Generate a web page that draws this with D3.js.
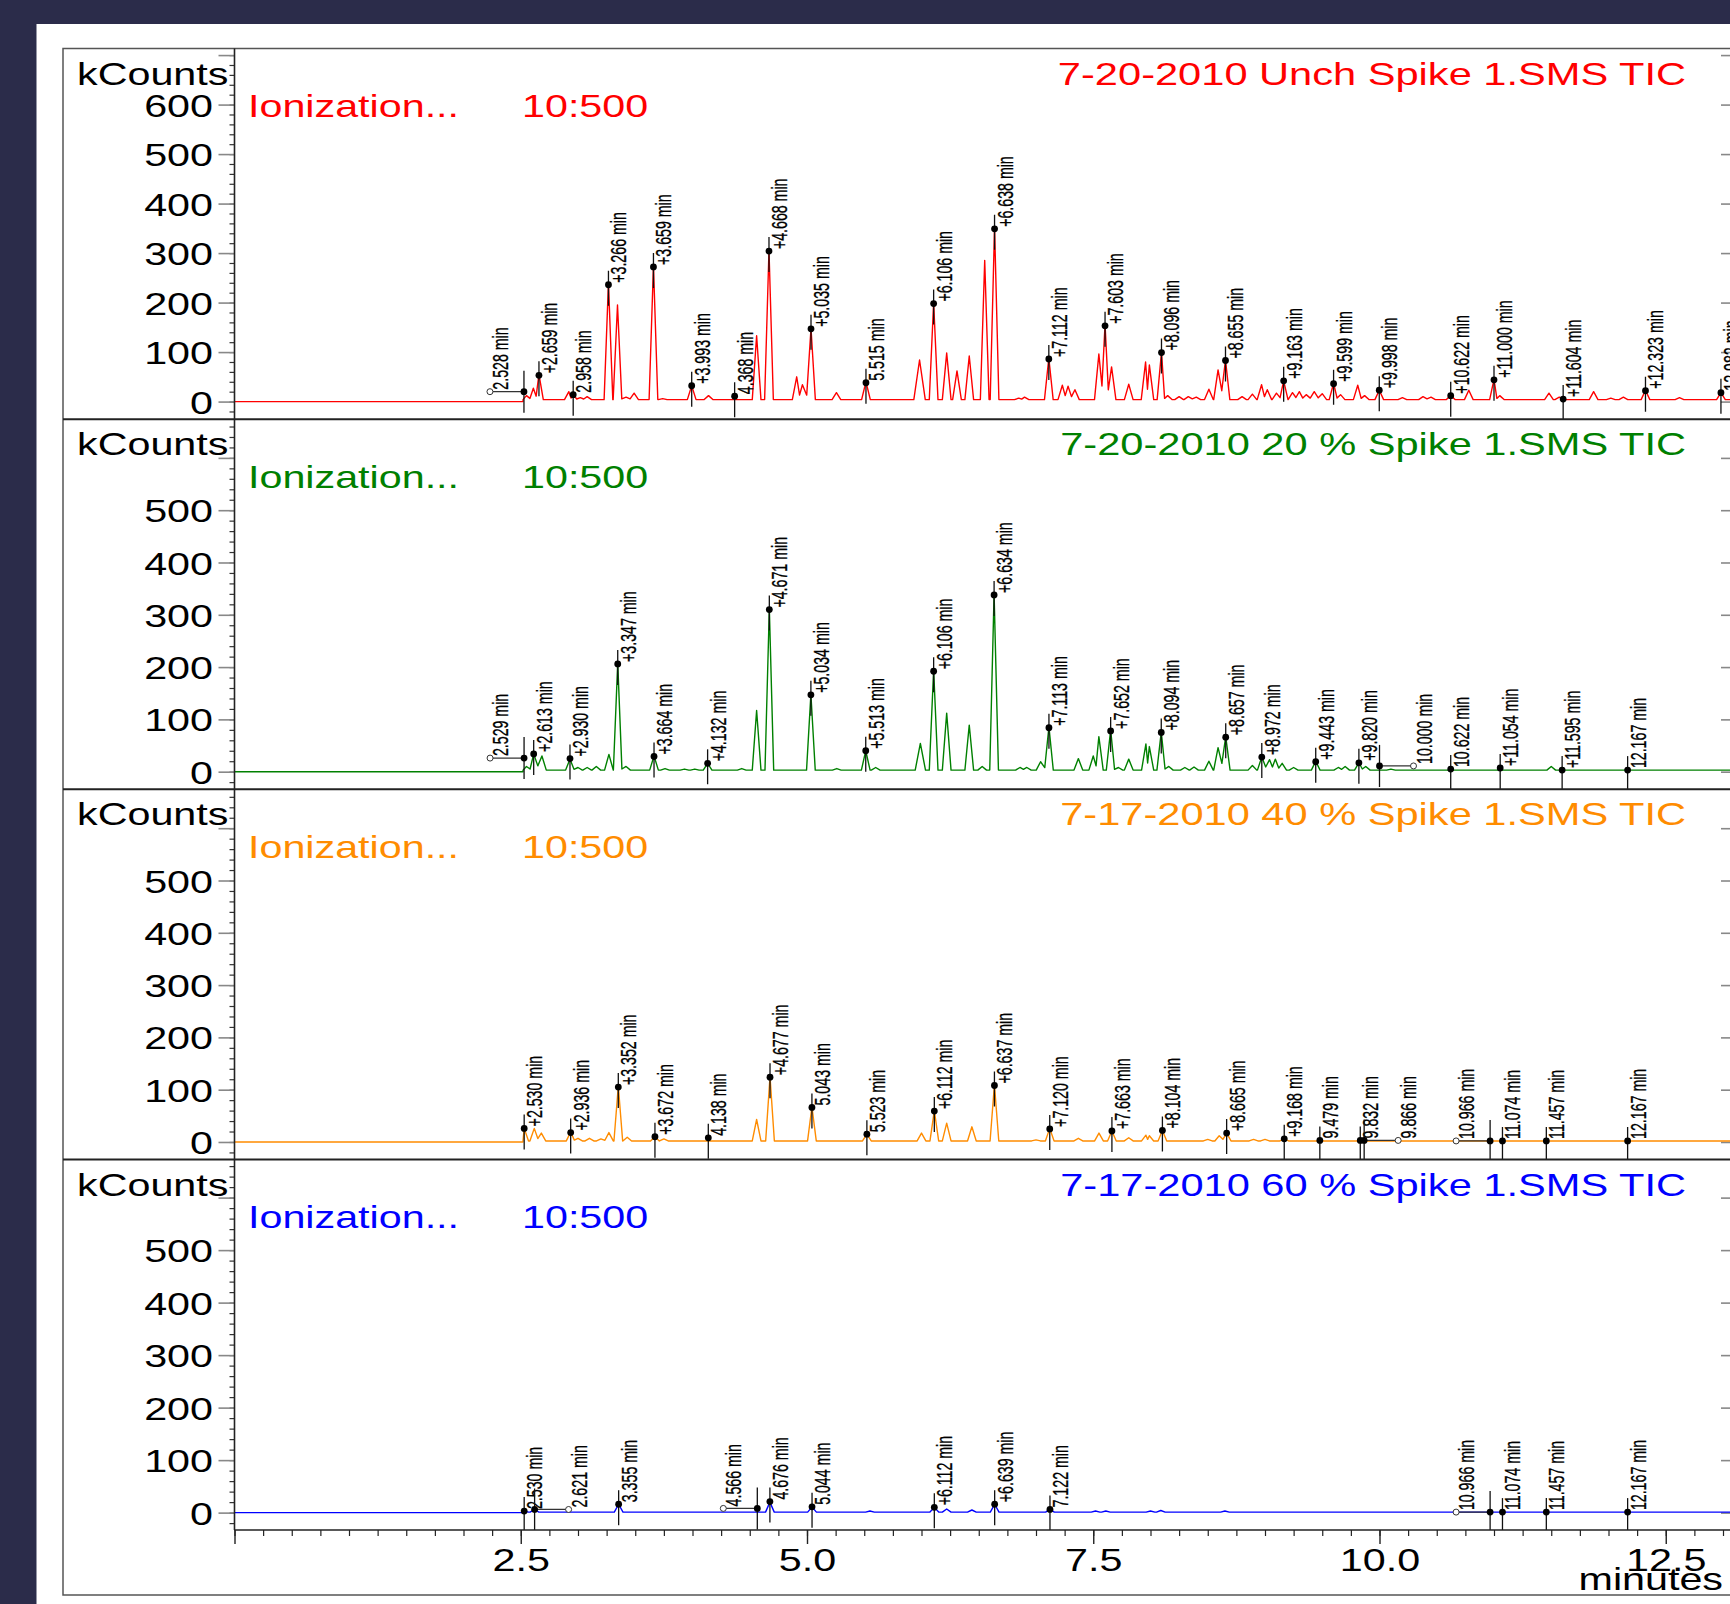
<!DOCTYPE html>
<html><head><meta charset="utf-8">
<script src="https://cdn.jsdelivr.net/npm/d3@7"></script>
<style>html,body{margin:0;padding:0;background:#2b2c4a;} svg{display:block;}</style>
</head><body><svg id="c" width="1730" height="1604"></svg>
<script>
// ---------------- DATA ----------------
const panelTitles = ["7-20-2010 Unch Spike 1.SMS TIC","7-20-2010 20 % Spike 1.SMS TIC","7-17-2010 40 % Spike 1.SMS TIC","7-17-2010 60 % Spike 1.SMS TIC"];
const panelColors = ["#ff0000","#008000","#ff8c00","#0000ff"];
const ionLabel = "Ionization...";
const ionValue = "10:500";
const yAxisTitle = "kCounts";
const xAxisTitle = "minutes";
const yDomainMax = [713.3, 673.8, 674.4, 672.4];
const yDomainMin = [-35.8, -33.7, -33.7, -33.1];
const yLabelMax = [600, 500, 500, 500];
const xTickValues = [2.5, 5.0, 7.5, 10.0, 12.5];
const xTickLabels = ["2.5", "5.0", "7.5", "10.0", "12.5"];
const dataStart = [2.52, 2.52, 2.52, 2.52];
const baseLevels = [4, 3, 2, 1];

// peaks: [retention time (min), height (kCounts), optional half width]
const redPeaks = [[2.55,12],[2.61,27],[2.659,55],[2.92,20],[2.958,14],[3.02,8],[3.08,10],[3.266,240],[3.345,195],[3.42,9],[3.49,17],[3.659,275],[3.74,6],[3.993,32],[4.14,12],[4.56,133],[4.668,306],[4.91,50],[4.96,34],[5.035,148],[5.257,18],[5.515,40],[5.983,84,0.05],[6.106,200],[6.22,98],[6.31,62],[6.417,92],[6.552,285],[6.638,352],[6.85,7],[6.90,9],[7.112,88],[7.23,33],[7.28,31],[7.34,24],[7.549,96],[7.603,156],[7.66,70],[7.81,35],[7.957,80],[7.99,74],[8.096,100],[8.15,12],[8.25,10],[8.33,10],[8.40,9],[8.51,25],[8.59,64],[8.655,84],[8.80,10],[8.89,15],[8.97,34],[9.02,24],[9.10,17],[9.163,42],[9.24,18],[9.30,20],[9.36,14],[9.43,20],[9.50,16],[9.599,37],[9.66,14],[9.81,33],[9.87,12],[9.998,23],[10.20,8],[10.38,10],[10.45,9],[10.622,12],[10.78,23],[11.000,45],[11.05,12],[11.48,17],[11.57,9],[11.87,20],[12.02,7],[12.13,9],[12.323,23],[12.62,8],[12.982,18]];
const greenPeaks = [[2.55,10],[2.613,34],[2.685,30],[2.93,24],[3.0,8],[3.08,8],[3.16,10],[3.27,33],[3.347,208],[3.42,10],[3.664,30],[3.76,6],[3.93,5],[4.02,5],[4.132,16],[4.43,6],[4.56,117],[4.671,312],[5.034,148],[5.26,6],[5.513,40],[5.60,8],[5.99,54,0.045],[6.106,195],[6.22,112],[6.417,89],[6.53,10],[6.634,340],[6.86,8],[6.92,8],[7.04,19],[7.113,86],[7.37,25],[7.50,30],[7.549,67],[7.652,80],[7.72,8],[7.81,24],[7.96,53],[7.99,48],[8.094,76],[8.16,10],[8.30,8],[8.38,9],[8.51,20],[8.59,46],[8.657,67],[8.89,12],[8.972,28],[9.04,23],[9.09,24],[9.15,16],[9.25,8],[9.443,20],[9.64,8],[9.70,10],[9.82,17],[9.88,10],[10.1,5],[11.5,10]];
const orangePeaks = [[2.53,26],[2.618,26],[2.68,17],[2.936,19],[3.0,7],[3.1,7],[3.2,6],[3.27,18],[3.352,107],[3.43,9],[3.672,10],[3.75,6],[4.56,43],[4.677,125],[5.043,67],[5.523,15],[6.0,17],[6.112,60],[6.22,36],[6.44,29],[6.637,110],[7.0,4],[7.12,26],[7.37,7],[7.55,17],[7.663,21],[7.81,8],[7.96,13],[7.99,12],[8.104,22],[8.50,5],[8.60,12],[8.665,17],[8.9,5],[9.0,5],[9.168,6]];
const bluePeaks = [[2.53,3],[2.62,6],[3.355,16],[4.676,20],[5.044,11],[5.55,3],[6.112,10],[6.22,7],[6.44,5],[6.639,16],[7.122,6],[7.52,3],[7.61,3],[8.0,3],[8.09,4],[8.65,3]];

// marks: [label time, dot value (kCounts), "+" prefix, lead (-1/+1 = offset label with leader)]
const redMarks = [["2.528",20,0,-1],["2.659",53,1],["2.958",14,0],["3.266",236,1],["3.659",272,1],["3.993",32,1],["4.368",11,0],["4.668",304,1],["5.035",147,1],["5.515",38,0],["6.106",198,1],["6.638",349,1],["7.112",86,1],["7.603",153,1],["8.096",99,1],["8.655",83,1],["9.163",42,1],["9.599",36,1],["9.998",23,1],["10.622",12,1],["11.000",44,1],["11.604",5,1],["12.323",22,1],["12.982",18,0]];
const greenMarks = [["2.529",26,0,-1],["2.613",34,1],["2.930",25,1],["3.347",206,1],["3.664",29,1],["4.132",16,1],["4.671",310,1],["5.034",147,1],["5.513",40,1],["6.106",192,1],["6.634",338,1],["7.113",84,1],["7.652",78,1],["8.094",75,1],["8.657",66,1],["8.972",28,1],["9.443",19,1],["9.820",17,1],["10.000",11,0,1],["10.622",5,0],["11.054",7,1],["11.595",3,1],["12.167",3,0]];
const orangeMarks = [["2.530",26,1],["2.936",18,1],["3.352",105,1],["3.672",10,1],["4.138",8,0],["4.677",124,1],["5.043",66,0],["5.523",15,0],["6.112",59,1],["6.637",108,1],["7.120",25,1],["7.663",21,1],["8.104",22,1],["8.665",17,1],["9.168",6,1],["9.479",3,0],["9.832",3,0],["9.866",3,0,1],["10.966",2,0,-1],["11.074",2,0],["11.457",2,0],["12.167",2,0]];
const blueMarks = [["2.530",3,0],["2.621",6,0,1],["3.355",16,0],["4.566",8,0,-1],["4.676",21,0],["5.044",11,0],["6.112",10,1],["6.639",16,1],["7.122",6,0],["10.966",1,0,-1],["11.074",1,0],["11.457",1,0],["12.167",1,0]];

const allPeaks = [redPeaks, greenPeaks, orangePeaks, bluePeaks];
const allMarks = [redMarks, greenMarks, orangeMarks, blueMarks];

// ---------------- LAYOUT ----------------
const W = 1730, H = 1604;
const plotLeft = 234.5, plotRight = 1740;
const panelTops = [48.5, 419.3, 789.3, 1159.6];
const plotBottom = 1530;
const FONT = "'Liberation Sans', Arial, sans-serif";
const SX = 1.29;
const HW = 0.038;

const svg = d3.select("#c");
svg.append("rect").attr("width", W).attr("height", H).attr("fill", "#2b2c4a");
svg.append("rect").attr("x", 36.5).attr("y", 24).attr("width", W).attr("height", H).attr("fill", "#fff");
svg.append("rect").attr("x", 63).attr("y", 48.5).attr("width", 1800).attr("height", 1595 - 48.5)
  .attr("fill", "none").attr("stroke", "#555").attr("stroke-width", 1.5);

const x = d3.scaleLinear().domain([0, (plotRight - plotLeft) / 114.5]).range([plotLeft, plotRight]);

function htext(g, px, py, str, color, anchor, sx) {
  g.append("text").attr("transform", `translate(${px},${py}) scale(${sx || SX},1)`)
    .attr("text-anchor", anchor).attr("font-family", FONT).attr("font-size", 32)
    .attr("fill", color).text(str);
}

function tracePoints(peaks, base, start, end) {
  const ps = peaks.slice().sort((a, b) => a[0] - b[0]);
  const pts = [[0, 0], [start, 0], [start, base]];
  const hw = p => p[2] || HW;
  for (let i = 0; i < ps.length; i++) {
    const p = ps[i], prev = ps[i - 1], next = ps[i + 1];
    if (prev && prev[0] + hw(prev) > p[0] - hw(p)) {
      pts.push([(prev[0] + p[0]) / 2, base + 0.3 * (Math.min(prev[1], p[1]) - base)]);
    } else {
      pts.push([Math.max(p[0] - hw(p), start), base]);
    }
    pts.push([p[0], p[1]]);
    if (!(next && p[0] + hw(p) > next[0] - hw(next))) pts.push([p[0] + hw(p), base]);
  }
  pts.push([end, base]);
  return pts;
}

panelTops.forEach((T, i) => {
  const B = i < 3 ? panelTops[i + 1] : plotBottom;
  const y = d3.scaleLinear().domain([yDomainMin[i], yDomainMax[i]]).range([B, T]);
  const g = svg.append("g");
  const clipId = "clip" + i;
  svg.append("clipPath").attr("id", clipId).append("rect")
    .attr("x", plotLeft).attr("y", T).attr("width", 1600).attr("height", B - T);

  if (i > 0) g.append("line").attr("x1", 63).attr("x2", W).attr("y1", T).attr("y2", T)
    .attr("stroke", "#222").attr("stroke-width", 2);

  const minor = d3.range(Math.ceil(yDomainMin[i] / 20) * 20, yDomainMax[i], 20);
  const major = d3.range(0, yDomainMax[i], 100);
  const ay1 = g.append("g").attr("transform", `translate(${plotLeft},0)`)
    .call(d3.axisLeft(y).tickValues(minor).tickSize(5).tickFormat(""));
  ay1.select(".domain").remove();
  ay1.selectAll("line").attr("stroke", "#333").attr("stroke-width", 1.2);
  const ay2 = g.append("g").attr("transform", `translate(${plotLeft},0)`)
    .call(d3.axisLeft(y).tickValues(major).tickSize(16).tickFormat(d => d <= yLabelMax[i] ? d3.format("d")(d) : ""));
  ay2.select(".domain").remove();
  ay2.selectAll("line").attr("stroke", "#888").attr("stroke-width", 1.6);
  ay2.selectAll("text").attr("font-family", FONT).attr("font-size", 32).attr("fill", "#000")
    .attr("x", (213 - plotLeft) / SX).attr("dy", "0.36em").attr("transform", `scale(${SX},1)`);
  const ar = g.append("g").attr("transform", `translate(1735,0)`)
    .call(d3.axisLeft(y).tickValues(major).tickSize(14).tickFormat(""));
  ar.select(".domain").remove();
  ar.selectAll("line").attr("stroke", "#888").attr("stroke-width", 1.6);

  htext(g, 228.4, T + 36, yAxisTitle, "#000", "end");
  htext(g, 1686, T + 36, panelTitles[i], panelColors[i], "end", 1.30);
  htext(g, 248, T + 68.5, ionLabel, panelColors[i], "start");
  htext(g, 522, T + 68.5, ionValue, panelColors[i], "start");

  const cg = g.append("g").attr("clip-path", `url(#${clipId})`);
  const line = d3.line().x(d => x(d[0])).y(d => y(d[1]));
  cg.append("path").datum(tracePoints(allPeaks[i], baseLevels[i], dataStart[i], x.domain()[1]))
    .attr("d", line).attr("fill", "none").attr("stroke", panelColors[i]).attr("stroke-width", 1.4)
    .attr("stroke-linejoin", "round");

  allMarks[i].forEach(m => {
    const t = parseFloat(m[0]);
    const tx = x(t), ty = y(m[1]);
    const lead = m[3] || 0;
    const ax = tx + lead * 34;
    if (lead) {
      cg.append("line").attr("x1", ax).attr("x2", tx).attr("y1", ty).attr("y2", ty)
        .attr("stroke", "#333").attr("stroke-width", 1.2);
      cg.append("circle").attr("cx", ax).attr("cy", ty).attr("r", 3)
        .attr("fill", "#fff").attr("stroke", "#333").attr("stroke-width", 1);
    }
    cg.append("line").attr("x1", tx).attr("x2", tx).attr("y1", ty - (lead ? 21 : 14)).attr("y2", ty + 21)
      .attr("stroke", "#111").attr("stroke-width", 1.3);
    cg.append("circle").attr("cx", tx).attr("cy", ty).attr("r", 3.4).attr("fill", "#000");
    cg.append("text").attr("transform", `translate(${ax + 18},${ty - 2}) rotate(-90) scale(0.86,1.32)`)
      .attr("font-family", FONT).attr("font-size", 16.5).attr("fill", "#000")
      .attr("stroke", "#000").attr("stroke-width", 0.25)
      .text((m[2] ? "+" : "") + m[0] + " min");
  });
});

svg.append("line").attr("x1", plotLeft).attr("x2", plotLeft).attr("y1", 48.5).attr("y2", plotBottom)
  .attr("stroke", "#222").attr("stroke-width", 1.6);
const ax1 = svg.append("g").attr("transform", `translate(0,${plotBottom})`)
  .call(d3.axisBottom(x).tickValues(d3.range(0, 13.2, 0.25)).tickSize(6).tickFormat(""));
ax1.select(".domain").remove();
ax1.selectAll("line").attr("stroke", "#222").attr("stroke-width", 1.2);
const ax2 = svg.append("g").attr("transform", `translate(0,${plotBottom})`)
  .call(d3.axisBottom(x).tickValues([0].concat(xTickValues)).tickSize(14)
    .tickFormat(d => { const k = xTickValues.indexOf(d); return k >= 0 ? xTickLabels[k] : ""; }));
ax2.select(".domain").remove();
ax2.selectAll("line").attr("stroke", "#222").attr("stroke-width", 1.4);
ax2.selectAll("text").attr("font-family", FONT).attr("font-size", 32).attr("fill", "#000")
  .attr("y", 41).attr("dy", 0).attr("transform", `scale(${SX},1)`);
svg.append("line").attr("x1", plotLeft).attr("x2", W).attr("y1", plotBottom).attr("y2", plotBottom)
  .attr("stroke", "#222").attr("stroke-width", 1.6);
htext(svg, 1723, 1590, xAxisTitle, "#000", "end");
</script></body></html>
